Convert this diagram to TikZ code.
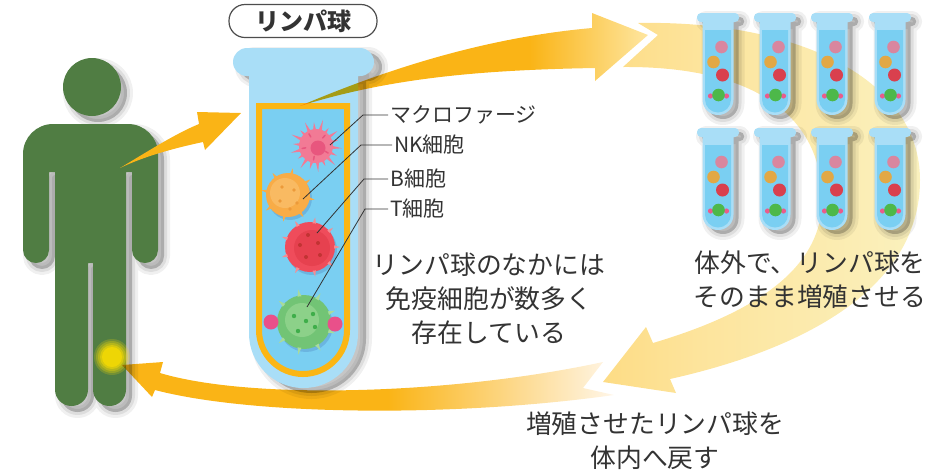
\documentclass[tikz,border=0pt]{standalone}
\usepackage{fontspec}
\setmainfont{Noto Sans CJK JP}

\definecolor{txtgray}{HTML}{333333}
\definecolor{boxgray}{HTML}{4D4D4D}
\definecolor{mangreen}{RGB}{80,125,67}
\definecolor{glowyel}{HTML}{FFE000}
\definecolor{tubelight}{HTML}{A9DEF7}
\definecolor{tubeblue}{HTML}{7ACFF2}
\definecolor{framegold}{HTML}{FBB614}
\definecolor{arrorange}{HTML}{FAB416}
\definecolor{arrpale}{HTML}{FEE6A0}
\definecolor{retpale}{HTML}{FFF6E8}
\definecolor{loopA}{HTML}{FDDC85}
\definecolor{loopB}{HTML}{FDE49C}
\definecolor{loopC}{HTML}{FAF1BE}
\definecolor{macpink}{HTML}{F27A95}
\definecolor{macdark}{HTML}{E8567E}
\definecolor{nkorange}{HTML}{F8AC47}
\definecolor{nklight}{HTML}{F9BA62}
\definecolor{nkdot}{HTML}{EC9A3A}
\definecolor{bred}{HTML}{EF4C5B}
\definecolor{bdark}{HTML}{E6414F}
\definecolor{bspike}{HTML}{F58C93}
\definecolor{tgreen}{HTML}{72C475}
\definecolor{tlight}{HTML}{8CD189}
\definecolor{tspike}{HTML}{A8DB9B}
\definecolor{tdark}{HTML}{3FAE4A}
\definecolor{tpink}{HTML}{E9508A}
\definecolor{vpink}{HTML}{D9869F}
\definecolor{vorange}{HTML}{E2A845}
\definecolor{vred}{HTML}{D9404E}
\definecolor{vgreen}{HTML}{4DB84A}
\definecolor{vdot}{HTML}{EA5C8C}

% arrow fills, left to right
\pgfdeclarehorizontalshading{topfade}{100bp}{color(0bp)=(arrorange); color(25bp)=(arrorange); color(58bp)=(arrorange); color(75bp)=(arrpale); color(100bp)=(arrpale)}
\pgfdeclarehorizontalshading{retfade}{100bp}{color(0bp)=(arrorange); color(25bp)=(arrorange); color(52bp)=(arrorange); color(75bp)=(retpale); color(100bp)=(retpale)}
\pgfdeclarehorizontalshading{loopfade}{100bp}{color(0bp)=(loopA); color(25bp)=(loopA); color(40bp)=(loopB); color(75bp)=(loopC); color(100bp)=(loopC)}

\tikzset{
  lbl/.style={font=\fontsize{21}{24}\selectfont, text=txtgray, anchor=west, inner sep=2pt},
  caption/.style={font=\fontsize{25.8}{34}\selectfont, text=txtgray, align=center},
  leader/.style={draw=txtgray, line width=0.8pt},
  titlebox/.style={draw=boxgray, fill=white, line width=1.2pt, rounded corners=16pt, minimum width=148pt, minimum height=33pt, font=\bfseries\fontsize{24}{28}\selectfont, text=txtgray},
  % three stacked grey copies, shifted
  softshadow/.style args={#1/#2}{
    preaction={fill=black, draw=black, opacity=0.06, line width=12pt, line join=round, transform canvas={shift={(#1,#2)}}},
    preaction={fill=black, draw=black, opacity=0.08, line width=6pt, line join=round, transform canvas={shift={(#1,#2)}}},
    preaction={fill=black, opacity=0.1, transform canvas={shift={(#1,#2)}}}},
  cellshadow/.style={preaction={fill=black!60!blue, opacity=0.12, transform canvas={shift={(2pt,-3pt)}}}},
}

% small culture tube, (centre x, top of lip)
\def\vial(#1,#2){%
  \begin{scope}[shift={(#1,#2)}]
    \fill[tubelight, softshadow=5pt/-4pt] [rounded corners=4pt] (-21,0) rectangle (21,9)
      [sharp corners] (-15.5,8) -- (-15.5,86.5) arc (180:0:15.5) -- (15.5,8) -- cycle;
    \fill[tubeblue] (-13,17) -- (-13,86.5) arc (180:0:13) -- (13,17) -- cycle;
    \fill[vpink] (3.5,34) circle (6.3);
    \fill[vorange] (-4.5,49) circle (6.3);
    \fill[vred] (4.5,62) circle (6.5);
    \fill[vdot] (-7.5,83) circle (2.6) (8.5,83) circle (2.6);
    \fill[vgreen] (0.5,82) circle (6.3);
  \end{scope}}

\begin{document}
\begin{tikzpicture}[x=1pt,y=-1pt]
  \useasboundingbox (0,0) rectangle (934,475);

  % culture loop behind the tubes
  \shade[shading=loopfade]
    (638,23) .. controls (800,20) and (920,80) .. (920,180)
    .. controls (920,290) and (800,350) .. (670,379)
    -- (676,393) -- (603,382) -- (646,327) -- (653,343)
    .. controls (730,320) and (822,280) .. (822,200)
    .. controls (822,120) and (760,66) .. (623,67)
    -- (658,35) -- cycle;

  % eight culture tubes
  \foreach \cx in {718,775,832,890}
    \foreach \ty in {13,128}
      \vial(\cx,\ty);

  % person
  \fill[mangreen, softshadow=6pt/-6pt]
    (92,87) circle (29)
    (23,154) arc (180:270:30) -- (128,124) arc (270:360:30)
    -- (158,250) arc (0:180:13) -- (132,172) -- (126,172)
    -- (126,389.5) arc (0:180:16.5) -- (93,263) -- (88,263)
    -- (88,389.5) arc (0:180:16.5) -- (55,172) -- (49,172)
    -- (49,250) arc (0:180:13) -- cycle;
  \foreach \r/\o in {18/0.2,16/0.25,14/0.3,12/0.45,10/0.6}
    \fill[glowyel, opacity=\o] (112,357) circle (\r);

  % back into the body
  \begin{scope}[blend mode=multiply]
    \shade[shading=retfade]
      (603,362) -- (583,388) -- (614,395)
      .. controls (450,418) and (250,415) .. (155,390)
      -- (152,397) -- (122,365) -- (163,362) -- (160,373)
      .. controls (250,400) and (450,395) .. (603,362) -- cycle;
  \end{scope}

  % big tube
  \fill[tubelight, softshadow=8pt/-5pt] [rounded corners=14pt] (233,48) rectangle (374,76)
    [sharp corners] (249,70) -- (249,333.5) arc (180:0:54.5) -- (358,70) -- cycle;
  \filldraw[fill=tubeblue, draw=framegold, line width=6pt]
    (259,106) -- (259,330) arc (180:0:44) -- (347,106) -- cycle;

  % macrophage
  \begin{scope}[shift={(316,146)}]
    \foreach \a/\l in {5/26,25/23,45/27,65/22,85/26,105/24,125/27,145/22,165/26,185/23,205/27,225/22,245/26,265/24,285/27,305/22,325/26,345/23}
      \fill[macpink] (\a-8:14) -- (\a:\l) -- (\a+8:14) -- cycle;
    \fill[macpink] (0,0) circle (17);
    \fill[macdark] (2,2) circle (7.5);
    \foreach \a in {30,100,170,240,310}
      \draw[macdark, line width=1.5pt, line cap=round] (\a:10.5) -- (\a:14);
  \end{scope}

  % NK cell
  \begin{scope}[shift={(288,195)}]
    \fill[nkorange, cellshadow] (0,0) circle (22);
    \foreach \a in {10,55,100,145,190,235,280,325}
      \fill[nkorange] (\a-7:19) -- (\a:27) -- (\a+7:19) -- cycle;
    \fill[nklight] (-3,-2) circle (15);
    \foreach \p in {(-6,-8),(6,-5),(-8,6),(9,8),(2,14)}
      \fill[nkdot] \p circle (1.8);
  \end{scope}

  % B cell
  \begin{scope}[shift={(310,247)}]
    \fill[bred, cellshadow] (0,0) circle (25);
    \foreach \a in {0,40,...,320}
      \fill[bspike] (\a-6:22) -- (\a:30) -- (\a+6:22) -- cycle;
    \fill[bred] (0,0) circle (24);
    \fill[bdark] (2,1) circle (18);
    \foreach \p in {(-10,-2),(8,-4),(-4,10),(10,8),(-2,-12)}
      \fill[red!70!black!80] \p circle (2);
  \end{scope}

  % T cell
  \begin{scope}[shift={(304,322)}]
    \fill[tgreen, cellshadow] (0,0) circle (27);
    \foreach \a in {20,60,...,340}
      \fill[tspike] (\a-6:24) -- (\a:33) -- (\a+6:24) -- cycle;
    \fill[tgreen] (0,0) circle (26);
    \fill[tlight] (-2,-2) circle (17);
    \foreach \p in {(-10,-6),(9,-8),(-6,9),(11,5),(2,-1)}
      \fill[tdark] \p circle (2.2);
    \fill[tpink] (-33,0) circle (7.5) (31,2) circle (7.5);
  \end{scope}

  % cell names
  \coordinate (macpt) at (330,145);
  \coordinate (nkpt) at (303,199);
  \coordinate (bpt) at (317,233);
  \coordinate (tpt) at (307,307);
  \node[lbl] (maclbl) at (388,115) {マクロファージ};
  \node[lbl] (nklbl) at (392,145) {NK細胞};
  \node[lbl] (blbl) at (388,179) {B細胞};
  \node[lbl] (tlbl) at (388,209) {T細胞};
  \draw[leader] (macpt) -- (363,115) -- (maclbl.west);
  \draw[leader] (nkpt) -- (361,145) -- (nklbl.west);
  \draw[leader] (bpt) -- (364,179) -- (blbl.west);
  \draw[leader] (tpt) -- (365,209) -- (tlbl.west);

  % from the tube out to the culture
  \begin{scope}[blend mode=multiply]
    \shade[shading=topfade]
      (300,106) .. controls (380,72) and (480,38) .. (592,28)
      -- (592,13) -- (648,35) -- (595,81) -- (595,68)
      .. controls (480,70) and (390,78) .. (300,106) -- cycle;
  \end{scope}

  % from the body into the tube
  \fill[arrorange]
    (120,168) .. controls (150,150) and (175,134) .. (199,124)
    -- (197,112) -- (241,113) -- (205,150) -- (203,142)
    .. controls (175,148) and (145,156) .. (120,168) -- cycle;

  \node[titlebox] (title) at (303,21) {リンパ球};

  \node[caption] (insidetxt) at (489,299) {リンパ球のなかには\\免疫細胞が数多く\\存在している};
  \node[caption] (growtxt) at (810,280) {体外で、リンパ球を\\そのまま増殖させる};
  \node[caption] (backtxt) at (655,441) {増殖させたリンパ球を\\体内へ戻す};
\end{tikzpicture}
\end{document}
